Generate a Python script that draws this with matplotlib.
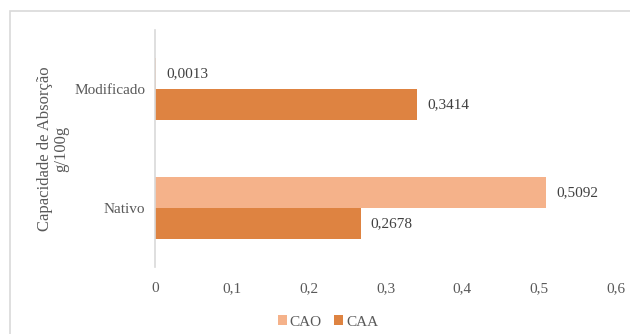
import numpy as np
import matplotlib.pyplot as plt
from matplotlib.patches import Rectangle

categorias = ['Nativo', 'Modificado']
cao = [0.5092, 0.0013]
caa = [0.2678, 0.3414]
ticks = [0, 0.1, 0.2, 0.3, 0.4, 0.5, 0.6]

plt.rcParams['font.family'] = ['Liberation Serif', 'DejaVu Serif']

cor_cao = '#F5B28A'
cor_caa = '#DE8341'
texto = '#404040'

fig = plt.figure(figsize=(6.3, 3.34), dpi=100)
ax = fig.add_axes([155 / 630, 1 - 267 / 334, (616 - 155) / 630, (267 - 30) / 334])

# moldura do gráfico (só aparecem as bordas de cima e da esquerda)
fig.patches.append(Rectangle((10 / 630, -0.1), 1.2, 1 - 11 / 334 + 0.1,
                             transform=fig.transFigure, fill=False,
                             edgecolor='#d9d9d9', linewidth=1.2))

y = np.arange(len(categorias))
h = 0.262
b1 = ax.barh(y + h / 2, cao, height=h, color=cor_cao, label='CAO')
b2 = ax.barh(y - h / 2, caa, height=h, color=cor_caa, label='CAA')

def fmt(v):
    return ('%g' % v).replace('.', ',')

for barras in (b1, b2):
    for r in barras:
        v = r.get_width()
        ax.text(v + 0.013, r.get_y() + r.get_height() / 2, fmt(v),
                va='center', ha='left', fontsize=11, color=texto)

ax.set_xlim(0, 0.6)
ax.set_ylim(-0.5, 1.5)
ax.set_xticks(ticks)
ax.set_xticklabels([fmt(t) for t in ticks])
ax.set_yticks(y)
ax.set_yticklabels(categorias)
ax.tick_params(axis='both', length=0, labelsize=11, colors='#595959')
ax.tick_params(axis='x', pad=11)
ax.tick_params(axis='y', pad=7)
for s in ['top', 'right', 'bottom']:
    ax.spines[s].set_visible(False)
ax.spines['left'].set_color('#d9d9d9')
ax.spines['left'].set_linewidth(1.2)

ax.set_ylabel('Capacidade de Absorção\ng/100g', fontsize=12, color='#595959',
              linespacing=0.95)
ax.yaxis.set_label_coords(-0.187, 0.5)

fig.legend(handles=[b1, b2], labels=['CAO', 'CAA'], loc='center',
           bbox_to_anchor=(328 / 630, 1 - 322 / 334), ncol=2, frameon=False,
           fontsize=11, handlelength=0.6, handleheight=0.6, handletextpad=0.2,
           columnspacing=0.8, labelcolor='#595959')

fig.savefig('out.png', dpi=100)
